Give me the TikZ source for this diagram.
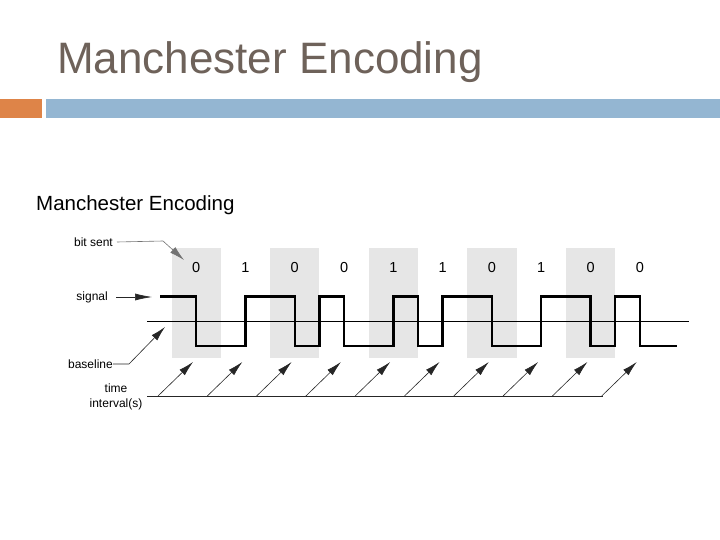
\documentclass[tikz,border=0pt]{standalone}
\usepackage{fontspec}
\setmainfont{Liberation Sans}
\usetikzlibrary{arrows.meta}
\definecolor{titlecol}{RGB}{110,98,90}
\definecolor{orangebar}{RGB}{222,132,72}
\definecolor{bluebar}{RGB}{148,182,210}
\definecolor{boxgray}{RGB}{230,230,230}
\tikzset{
  sig/.style={line width=2.4pt, line join=miter},
  leader/.style={line width=0.6pt, draw=black!85},
  bigtip/.style={-{Latex[length=15pt,width=7.5pt]}},
  longtip/.style={-{Latex[length=17pt,width=7pt]}},
  lbl/.style={font=\fontsize{12}{14}\selectfont, inner sep=0pt, align=center},
  digit/.style={font=\fontsize{14.5}{16}\selectfont, inner sep=0pt},
  graybox/.style={fill=boxgray, draw=none}
}
\begin{document}
\begin{tikzpicture}[x=1pt,y=-1pt]
\useasboundingbox (0,0) rectangle (720,540);
% header
\node[anchor=base west, inner sep=0pt, text=titlecol, font=\fontsize{44}{50}\selectfont] (title) at (57,74) {Manchester Encoding};
\fill[orangebar] (0,99) rectangle (42,118);
\fill[bluebar] (46,99) rectangle (720,118);
% subtitle
\node[anchor=base west, inner sep=0pt, font=\fontsize{20.5}{24}\selectfont] (sub) at (36,211) {Manchester Encoding};
% gray boxes
\foreach \i in {0,2,4,6,8}{
  \fill[graybox] ({171.5+49.3*\i},247.5) rectangle ({171.5+49.3*(\i+1)},358);
}
% digits
\foreach \b [count=\k from 0] in {0,1,0,0,1,1,0,1,0,0}{
  \node[digit] (d\k) at ({171.5+49.3*(\k+0.5)},268) {\b};
}
% baseline
\coordinate (bl0) at (147,321);
\coordinate (bl1) at (689,321);
\draw[line width=0.6pt] (bl0) -- (bl1);
% signal
\draw[sig] (160,296.5) -- (196.15,296.5) -- (196.15,346) -- (245.45,346) -- (245.45,296.5)
  -- (294.75,296.5) -- (294.75,346) -- (319.4,346) -- (319.4,296.5) -- (344.05,296.5)
  -- (344.05,346) -- (393.35,346) -- (393.35,296.5) -- (418,296.5) -- (418,346)
  -- (442.65,346) -- (442.65,296.5) -- (491.95,296.5) -- (491.95,346) -- (541.25,346)
  -- (541.25,296.5) -- (590.55,296.5) -- (590.55,346) -- (615.2,346) -- (615.2,296.5)
  -- (639.85,296.5) -- (639.85,346) -- (676.7,346);
% time line and arrows
\coordinate (t0) at (147,396);
\coordinate (t1) at (603,396);
\draw[leader] (t0) -- (t1);
\foreach \k in {0,...,9}{
  \coordinate (ta\k) at ({158+49.3*\k},396);
  \coordinate (tb\k) at ({193+49.3*\k},362);
  \draw[leader, bigtip] (ta\k) -- (tb\k);
}
% labels
\node[lbl, anchor=east] (bitsent) at (113,242) {bit sent};
\coordinate (bsk) at (163,241);
\coordinate (bst) at (184,260);
\draw[leader, draw=black!55, bigtip] (bitsent.east) ++(4,0) -- (bsk) -- (bst);

\node[lbl, anchor=east] (signal) at (108,297) {signal};
\coordinate (sgt) at (152,297);
\draw[leader, longtip] ([xshift=8pt]signal.east) -- (sgt);

\node[lbl, anchor=east] (baseline) at (113,364) {baseline};
\coordinate (bak) at (129,364);
\coordinate (bat) at (165,327);
\draw[leader, bigtip] (baseline.east) -- (bak) -- (bat);

\node[lbl, anchor=north] (time) at (116,384) {time\\[1pt]interval(s)};
\end{tikzpicture}
\end{document}
